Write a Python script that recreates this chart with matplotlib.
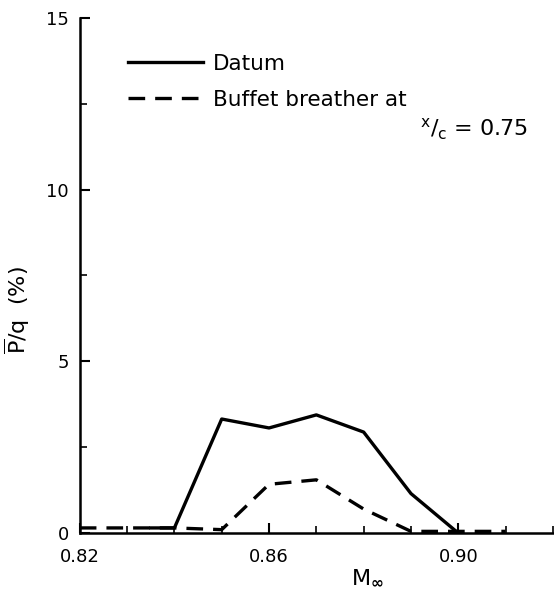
import numpy as np
import matplotlib.pyplot as plt
from matplotlib.ticker import MultipleLocator

# Mach number and rms pressure fluctuation (%)
mach = [0.835, 0.84, 0.85, 0.86, 0.87, 0.88, 0.89, 0.90]
datum = [0.15, 0.15, 3.32, 3.06, 3.44, 2.94, 1.15, 0.0]

mach_bb = [0.82, 0.83, 0.84, 0.85, 0.86, 0.87, 0.88, 0.89, 0.90, 0.91]
breather = [0.15, 0.15, 0.15, 0.1, 1.42, 1.55, 0.7, 0.05, 0.05, 0.05]

fig = plt.figure(figsize=(5.54, 5.91), dpi=100)
ax = fig.add_axes([0.144, 0.098, 0.854, 0.872])

ax.plot(mach, datum, color='black', linewidth=2.4, label='Datum')
ax.plot(mach_bb, breather, color='black', linewidth=2.4,
        dashes=(5, 3), label='Buffet breather at')

ax.set_xlim(0.82, 0.92)
ax.set_ylim(0, 15)
ax.set_xticks([0.82, 0.86, 0.90])
ax.set_xticklabels(['0.82', '0.86', '0.90'])
ax.xaxis.set_minor_locator(MultipleLocator(0.01))
ax.set_yticks([0, 5, 10, 15])
ax.yaxis.set_minor_locator(MultipleLocator(2.5))

for s in ['top', 'right']:
    ax.spines[s].set_visible(False)
for s in ['left', 'bottom']:
    ax.spines[s].set_linewidth(1.8)

ax.tick_params(which='major', direction='in', length=7, width=1.5,
               labelsize=13)
ax.tick_params(axis='x', which='major', pad=11)
ax.tick_params(axis='y', which='major', pad=8)
ax.tick_params(which='minor', direction='in', length=5, width=1.2)

ax.set_ylabel(r'$\overline{\mathrm{P}}$/q  (%)', fontsize=16)
ax.yaxis.set_label_coords(-0.1, 6.5 / 15)
ax.text(0.8807, -1.3, r'M$_{\mathbf{\infty}}$', fontsize=16,
        ha='center', va='center')

ax.legend(loc='upper left', bbox_to_anchor=(0.06, 0.968), frameon=False,
          fontsize=15.5, handlelength=3.5, handletextpad=0.45,
          labelspacing=0.75)
ax.text(0.892, 11.75, r'$^{\mathrm{x}}/_{\mathrm{c}}$ = 0.75', fontsize=16,
        ha='left', va='center')

fig.savefig('out.png', dpi=100)
